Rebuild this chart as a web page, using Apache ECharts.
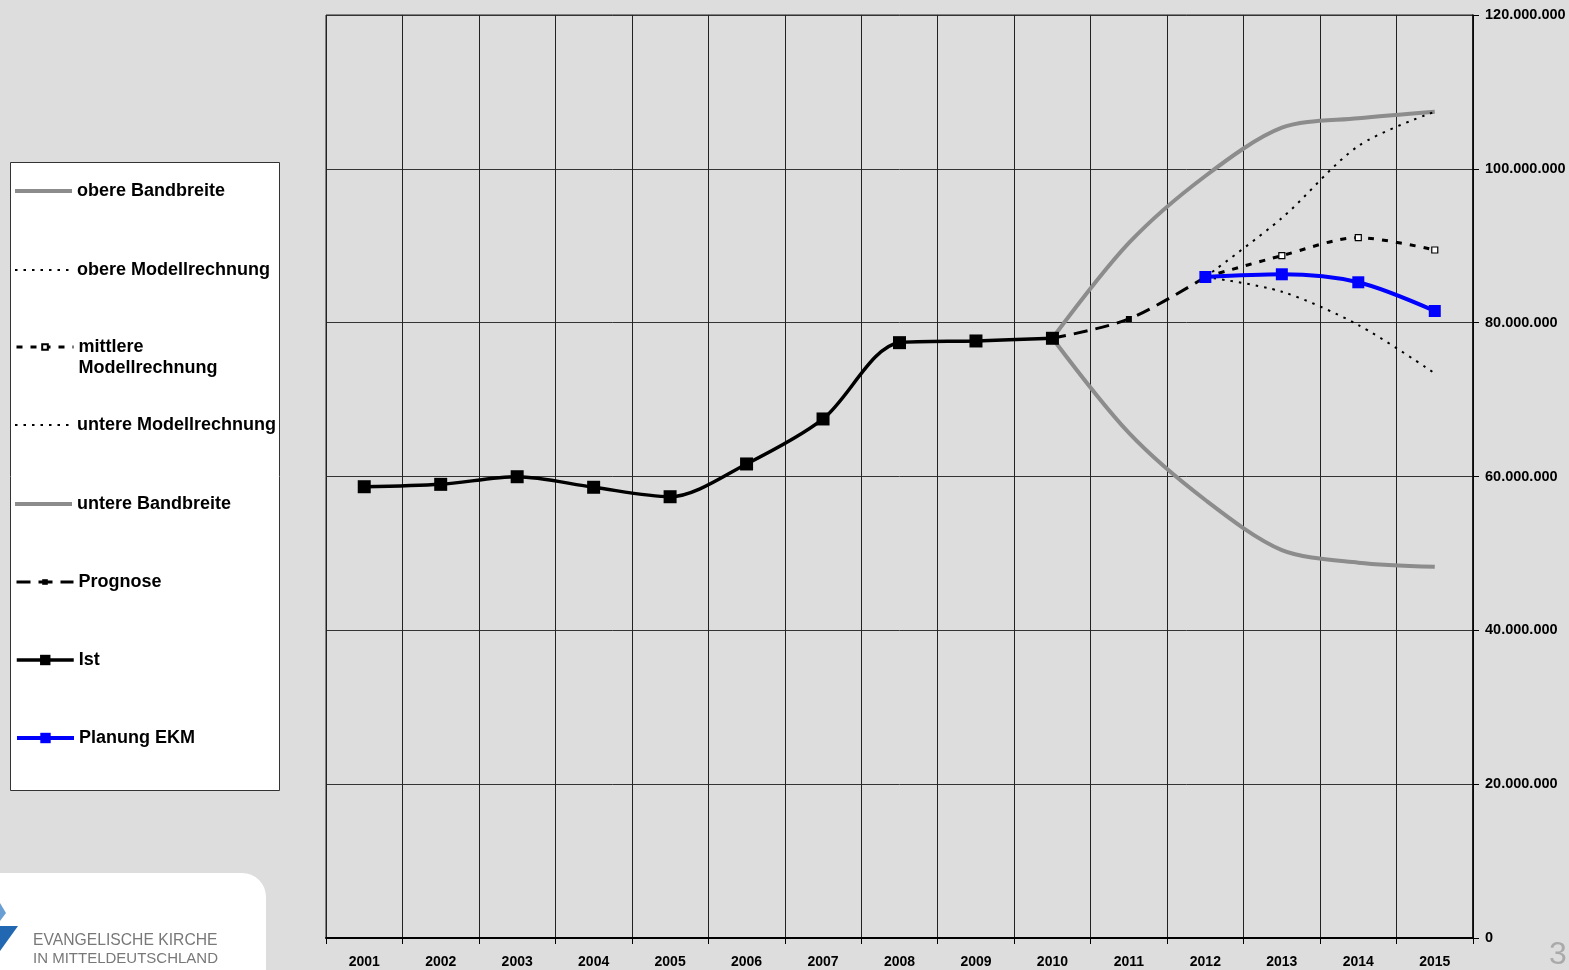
<!DOCTYPE html>
<html>
<head>
<meta charset="utf-8">
<script src="https://cdn.jsdelivr.net/npm/echarts@6/dist/echarts.min.js"></script>
<style>
  html, body { margin: 0; padding: 0; background: #dddddd; }
  #chart { width: 1569px; height: 970px; }
</style>
</head>
<body>
<div id="chart"></div>
<script>
const years = ['2001','2002','2003','2004','2005','2006','2007','2008','2009','2010','2011','2012','2013','2014','2015'];
const obereBandbreite = [null,null,null,null,null,null,null,null,null,77970000,90360000,99070000,105350000,106570000,107430000];
const obereModell = [null,null,null,null,null,null,null,null,null,null,null,85940000,93600000,102970000,107430000];
const mittlereModell = [null,null,null,null,null,null,null,null,null,null,null,85940000,88710000,91050000,89450000];
const untereModell = [null,null,null,null,null,null,null,null,null,null,null,85940000,84030000,79700000,73410000];
const untereBandbreite = [null,null,null,null,null,null,null,null,null,77970000,65660000,56940000,50440000,48800000,48270000];
const prognose = [null,null,null,null,null,null,null,null,null,77970000,80480000,85940000,null,null,null];
const ist = [58670000,58980000,59970000,58600000,57370000,61630000,67480000,77400000,77620000,77970000,null,null,null,null,null];
const planungEKM = [null,null,null,null,null,null,null,null,null,null,null,85940000,86290000,85250000,81520000];
const yTicks = [0,20000000,40000000,60000000,80000000,100000000,120000000];

const legendNames = ['obere Bandbreite','obere Modellrechnung','mittlere Modellrechnung','untere Modellrechnung','untere Bandbreite','Prognose','Ist','Planung EKM'];
const legendCenters = [191, 270, 347, 425, 504, 582, 660, 738];

const FONT = 'Liberation Sans, Arial, sans-serif';

function fmt(v) {
  return String(Math.round(v)).replace(/\B(?=(\d{3})+(?!\d))/g, '.');
}

const chart = echarts.init(document.getElementById('chart'), null, {renderer: 'canvas'});

// per-legend icon settings: [itemHeight, hideSymbol, lineWidth, left]
const legendIcon = {
  'obere Bandbreite': [14, true, 4, 13],
  'obere Modellrechnung': [14, true, 2, 14],
  'mittlere Modellrechnung': [7, false, 3, 15],
  'untere Modellrechnung': [14, true, 2, 14],
  'untere Bandbreite': [14, true, 4, 13],
  'Prognose': [7, false, 3, 15],
  'Ist': [13, false, 3.5, 15],
  'Planung EKM': [13, false, 4, 15]
};

const legends = legendNames.map((name, i) => {
  const two = name === 'mittlere Modellrechnung';
  const ic = legendIcon[name];
  const item = {name: name};
  if (ic[1]) item.itemStyle = {opacity: 0};
  return {
    data: [item],
    orient: 'vertical',
    left: ic[3],
    top: two ? legendCenters[i] - 31.5 : legendCenters[i] - 10,
    padding: 0,
    itemWidth: 57,
    itemHeight: ic[0],
    selectedMode: false,
    z: 10,
    lineStyle: {width: ic[2]},
    formatter: two ? '\u00a0\nmittlere\nModellrechnung' : '{name}',
    textStyle: {
      fontSize: 18, fontWeight: 'bold', color: '#000', fontFamily: FONT,
      lineHeight: two ? 21 : 20
    }
  };
});

const bandStyle = {color: '#8c8c8c', width: 4};
const SM = 0.3;

chart.setOption({
  backgroundColor: '#dddddd',
  animation: false,
  grid: {left: 326, right: 96, top: 15, bottom: 32, show: true, borderColor: '#222', borderWidth: 1, outerBoundsMode: 'none', containLabel: false},
  legend: legends,
  xAxis: {
    type: 'category',
    data: years,
    boundaryGap: true,
    axisLine: {show: true, lineStyle: {color: '#000', width: 2}},
    axisTick: {show: true, length: 6, lineStyle: {color: '#000'}},
    axisLabel: {fontSize: 14, fontWeight: 'bold', color: '#000', fontFamily: FONT, margin: 17},
    splitLine: {show: true, interval: 0, lineStyle: {color: '#222', width: 1}}
  },
  yAxis: {
    type: 'value',
    position: 'right',
    min: yTicks[0],
    max: yTicks[yTicks.length - 1],
    interval: yTicks[1] - yTicks[0],
    axisLine: {show: true, lineStyle: {color: '#000', width: 1.5}},
    axisTick: {show: true, length: 6, lineStyle: {color: '#000'}},
    axisLabel: {fontSize: 14.5, fontWeight: 'bold', color: '#000', fontFamily: FONT, margin: 12, formatter: fmt},
    splitLine: {show: true, lineStyle: {color: '#333', width: 1}}
  },
  series: [
    {name: 'obere Bandbreite', type: 'line', data: obereBandbreite, smooth: SM, symbol: 'none', lineStyle: bandStyle, itemStyle: {color: '#8c8c8c'}, z: 2},
    {name: 'obere Modellrechnung', type: 'line', data: obereModell, smooth: SM, symbol: 'none', lineStyle: {color: '#000', width: 2, type: [2.5, 6]}, itemStyle: {color: '#000'}, z: 3},
    {name: 'mittlere Modellrechnung', type: 'line', data: mittlereModell, smooth: SM, symbol: 'rect', symbolSize: 6, showSymbol: true,
      lineStyle: {color: '#000', width: 3, type: [6, 8]}, itemStyle: {color: '#fff', borderColor: '#000', borderWidth: 1.2}, z: 3},
    {name: 'untere Modellrechnung', type: 'line', data: untereModell, smooth: SM, symbol: 'none', lineStyle: {color: '#000', width: 2, type: [2.5, 6]}, itemStyle: {color: '#000'}, z: 3},
    {name: 'untere Bandbreite', type: 'line', data: untereBandbreite, smooth: SM, symbol: 'none', lineStyle: bandStyle, itemStyle: {color: '#8c8c8c'}, z: 2},
    {name: 'Prognose', type: 'line', data: prognose, smooth: SM, symbol: 'rect', symbolSize: 6,
      lineStyle: {color: '#000', width: 3, type: [14, 8]}, itemStyle: {color: '#000'}, z: 4},
    {name: 'Ist', type: 'line', data: ist, smooth: SM, symbol: 'rect', symbolSize: 13,
      lineStyle: {color: '#000', width: 3.5}, itemStyle: {color: '#000'}, z: 6},
    {name: 'Planung EKM', type: 'line', data: planungEKM, smooth: SM, symbol: 'rect', symbolSize: 12,
      lineStyle: {color: '#0000ff', width: 4}, itemStyle: {color: '#0000ff'}, z: 7}
  ],
  graphic: [
    {type: 'rect', z: 0, shape: {x: 10.5, y: 162.5, width: 269, height: 628}, style: {fill: '#ffffff', stroke: '#333', lineWidth: 1}},
    {type: 'rect', z: 0, shape: {x: -30, y: 873, width: 296, height: 130, r: [0, 24, 0, 0]}, style: {fill: '#ffffff'}},
    {type: 'polygon', z: 1, shape: {points: [[0, 903], [6, 913], [0, 921]]}, style: {fill: '#6a9fd4'}},
    {type: 'polygon', z: 1, shape: {points: [[0, 926], [18, 926], [0, 951]]}, style: {fill: '#2167b2'}},
    {type: 'text', z: 1, left: 33, top: 933, style: {text: 'EVANGELISCHE KIRCHE', font: '15.7px ' + FONT, fill: '#787878'}},
    {type: 'text', z: 1, left: 33, top: 951, style: {text: 'IN MITTELDEUTSCHLAND', font: '15px ' + FONT, fill: '#787878'}},
    {type: 'text', z: 1, left: 1549, top: 939, style: {text: '3', font: '32px ' + FONT, fill: '#aaaaaa'}}
  ]
});
</script>
</body>
</html>
